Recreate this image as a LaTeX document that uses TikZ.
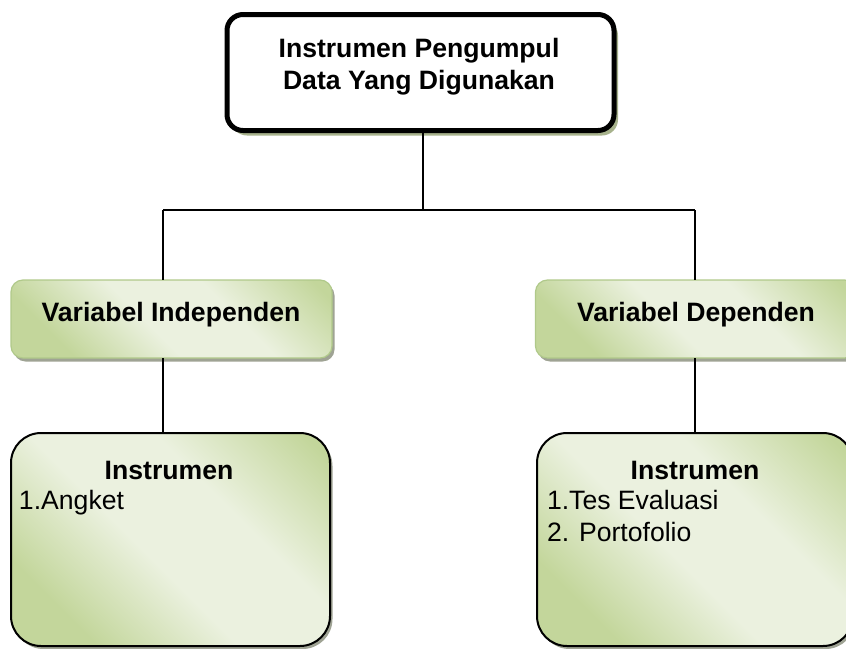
\documentclass[tikz,border=0pt]{standalone}
\usepackage{fontspec}
\setmainfont{Liberation Sans}
\usetikzlibrary{shadows}
\definecolor{gdark}{HTML}{C3D69B}
\definecolor{glight}{HTML}{EBF1DF}
\definecolor{gborder}{HTML}{B0C98A}
\definecolor{topshadow}{HTML}{A7B28C}
\definecolor{boxshadow}{HTML}{9FA394}
\pgfdeclarehorizontalshading{greenband}{100bp}{color(0bp)=(gdark); color(26bp)=(gdark); color(45bp)=(glight); color(62bp)=(glight); color(82bp)=(gdark); color(100bp)=(gdark)}
\begin{document}
\begin{tikzpicture}[x=1pt,y=-1pt,
  every node/.style={inner sep=0pt, outer sep=0pt},
  topbox/.style={draw=black, line width=5pt, rounded corners=16pt, fill=white,
    minimum width=387pt, minimum height=116pt,
    drop shadow={shadow xshift=4pt, shadow yshift=-5pt, fill=topshadow, opacity=1}},
  varbox/.style={draw=gborder, line width=1.2pt, rounded corners=12pt,
    shading=greenband, shading angle=45, minimum width=321pt, minimum height=78pt,
    drop shadow={shadow xshift=2.5pt, shadow yshift=-3.5pt, fill=boxshadow, opacity=1}},
  instbox/.style={draw=black, line width=2pt, rounded corners=30pt,
    shading=greenband, shading angle=45, minimum height=213pt,
    drop shadow={shadow xshift=2.5pt, shadow yshift=-3pt, fill=boxshadow, opacity=1}},
  conn/.style={draw=black, line width=1.3pt},
  boldtext/.style={font=\fontsize{26.6}{31}\selectfont\bfseries, anchor=base},
  plaintext/.style={font=\fontsize{26.6}{31}\selectfont, anchor=base west}
]
\useasboundingbox (0,0) rectangle (846,648);
\clip (0,0) rectangle (846,648);

% boxes
\node[topbox] (top) at (420.5,72.5) {};
\node[varbox] (vi) at (171.5,319) {};
\node[varbox] (vd) at (696,319) {};
\node[instbox, minimum width=319pt] (ii) at (170.5,539.5) {};
\node[instbox, minimum width=316pt] (id) at (695,539.5) {};

% texts
\node[boldtext] (t1) at (419,57) {Instrumen Pengumpul};
\node[boldtext] (t2) at (419,89) {Data Yang Digunakan};
\node[boldtext] (tvi) at (171,321) {Variabel Independen};
\node[boldtext] (tvd) at (696,321) {Variabel Dependen};
\node[boldtext] (tii) at (169,479) {Instrumen};
\node[plaintext] (a1) at (19,509) {1.Angket};
\node[boldtext] (tid) at (695,479) {Instrumen};
\node[plaintext] (b1) at (547,509) {1.Tes Evaluasi};
\node[plaintext] (b2) at (547,541) {2. Portofolio};

% connectors
\coordinate (hj) at (423,210);
\coordinate (hl) at (163,210);
\coordinate (hr) at (695,210);
\draw[conn] (top.south -| hj) -- (hj);
\draw[conn] (hl) -- (hr);
\draw[conn] (hl) -- (hl |- vi.north);
\draw[conn] (hr) -- (hr |- vd.north);
\draw[conn] (hl |- vi.south) -- (hl |- ii.north);
\draw[conn] (hr |- vd.south) -- (hr |- id.north);
\end{tikzpicture}
\end{document}
